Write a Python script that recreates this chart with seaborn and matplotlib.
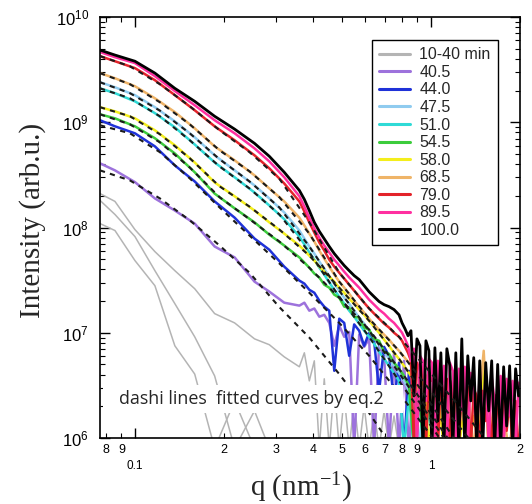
import numpy as np
import pandas as pd
import matplotlib
matplotlib.use("Agg")
import matplotlib.pyplot as plt
import seaborn as sns
from matplotlib.ticker import FixedLocator, FuncFormatter, LogLocator, NullFormatter
from matplotlib.patches import Rectangle

nan = np.nan

# ---------------- data (q in nm^-1, intensity in arb.u.) ----------------
q_data = [0.0762, 0.0856, 0.100, 0.1168, 0.1364, 0.1592, 0.1859, 0.2172, 0.2535, 0.2844, 0.3195,
          0.3594, 0.3736, 0.3883, 0.4037, 0.4197, 0.4362, 0.4535, 0.4715, 0.4901, 0.5095, 0.5296,
          0.5505, 0.5723, 0.5949, 0.6184, 0.6428, 0.6682, 0.6947, 0.7221, 0.7506, 0.7803,
          0.8111, 0.8432, 0.8765, 0.9112, 0.9472, 0.9846, 1.0235, 1.0640, 1.1060, 1.1497, 1.1951,
          1.2424, 1.2915, 1.3426, 1.3956, 1.4508, 1.5081, 1.5677, 1.6297, 1.6941, 1.7611, 1.8306,
          1.9030, 1.9781]

# finer q sampling of the noisy high-q tail (used by the three strongest curves)
q_tail = [0.7989, 0.8177, 0.8367, 0.8564, 0.8765, 0.8971, 0.9183, 0.9399, 0.9620, 0.9846,
          1.0078, 1.0315, 1.0558, 1.0806, 1.1060, 1.1321, 1.1587, 1.1860, 1.2139, 1.2424,
          1.2717, 1.3016, 1.3322, 1.3636, 1.3956, 1.4285, 1.4621, 1.4965, 1.5317, 1.5677,
          1.6046, 1.6424, 1.6810, 1.7206, 1.7611, 1.8025, 1.8449, 1.8883, 1.9328, 1.9781]

I_gray1 = [2.1e8, 1.77e8, 9.55e7, 5.9e7, 3.89e7, 2.62e7, 1.52e7, 1.24e7, 8.75e6, 7.7e6, 5.9e6,
           4.75e6, 6.45e6, 3.49e6, 5.41e6, 8e5, 3.65e6, 8e5, 3.13e6, 8e5, 2.51e6, 8e5, 2.25e6, 8e5,
           2.02e6, 8e5, 1.81e6, 8e5, 1.81e6, 8e5, 1.62e6, 8e5] + [nan] * 24
I_gray2 = [1.81e8, 1.33e8, 8.2e7, 3.89e7, 1.89e7, 9.15e6, 3.89e6, 8e5, 1.81e6, 8e5] + [nan] * 46
I_gray3 = [1.09e8, 9.36e7, 4.85e7, 2.8e7, 7.52e6, 4.05e6, 8e5, 2.25e6, 8e5] + [nan] * 47

I_40_5 = [4.07e8, 3.49e8, 2.7e8, 1.89e8, 1.45e8, 1.09e8, 6.6e7, 5.2e7, 3.06e7, 2.46e7, 1.93e7,
          1.81e7, 1.93e7, 1.62e7, 1.7e7, 1.42e7, 1.48e7, 1.24e7, 7.52e6, 1.17e7, 9.15e6, 1.02e7,
          8e5, 9.6e6, 7.35e6, 8.75e6, 8e5, 7.52e6, 6.04e6, 8e5, 6.45e6, 8e5,
          5.41e6, 8e5, 4.35e6, 8e5] + [nan] * 20
I_44_0 = [1.045e9, 9.15e8, 7.85e8, 5.9e8, 3.89e8, 2.74e8, 1.77e8, 1.24e8, 7.85e7, 6.15e7, 4.25e7,
          3.13e7, 2.93e7, 2.56e7, 2.4e7, 2.02e7, 1.77e7, 1.62e7, 4.35e6, 1.36e7, 1.24e7, 6.04e6,
          1.2e7, 1.045e7, 7.52e6, 1.0e7, 8.39e6, 2.8e6, 7.35e6, 6.04e6, 2.25e6, 5.2e6,
          8e5, 4.35e6, 8e5, 3.13e6, 8e5] + [nan] * 19
I_47_5 = [2.4e9, 2.15e9, 1.81e9, 1.39e9, 1.02e9, 7.2e8, 4.85e8, 3.49e8, 2.51e8, 1.89e8, 1.39e8,
          9.36e7, 7.85e7, 6.6e7, 5.65e7, 4.75e7, 4.05e7, 3.42e7, 2.93e7, 2.51e7, 2.15e7, 1.89e7,
          1.62e7, 1.39e7, 1.22e7, 1.045e7, 8.95e6, 7.7e6, 6.6e6, 5.65e6, 4.85e6, 4.15e6,
          3.49e6, 2.8e6, 2.25e6, 8e5, 2.51e6, 8e5, 1.81e6] + [nan] * 17
I_51_0 = [2.1e9, 1.89e9, 1.58e9, 1.22e9, 8.95e8, 6.15e8, 4.15e8, 3.0e8, 2.15e8, 1.62e8, 1.2e8,
          8.2e7, 6.9e7, 5.8e7, 4.95e7, 4.15e7, 3.57e7, 3.0e7, 2.56e7, 2.2e7, 1.89e7, 1.62e7,
          1.42e7, 1.22e7, 1.045e7, 9.15e6, 7.85e6, 6.6e6, 5.65e6, 4.85e6, 4.15e6, 3.49e6,
          8e5, 2.51e6, 8e5, 2.25e6, 8e5, 1.81e6, 8e5] + [nan] * 17
I_54_5 = [1.19e9, 1.09e9, 9.15e8, 7.05e8, 5.05e8, 3.35e8, 2.1e8, 1.52e8, 1.12e8, 8.55e7, 6.74e7,
          5.2e7, 4.65e7, 4.15e7, 3.65e7, 3.35e7, 2.86e7, 2.68e7, 2.3e7, 2.15e7, 1.77e7, 1.73e7,
          1.42e7, 1.39e7, 1.12e7, 1.07e7, 8.75e6, 8.39e6, 6.6e6, 6.3e6, 5.2e6, 4.55e6,
          3.89e6, 3.13e6, 8e5, 2.51e6, 8e5, 2.25e6, 8e5] + [nan] * 17
I_58_0 = [1.39e9, 1.27e9, 1.09e9, 8.39e8, 6.04e8, 4.15e8, 2.68e8, 1.98e8, 1.45e8, 1.12e8, 8.75e7,
          6.74e7, 6.04e7, 5.41e7, 4.85e7, 4.25e7, 3.8e7, 3.42e7, 3.06e7, 2.68e7, 2.4e7, 2.1e7,
          1.89e7, 1.66e7, 1.48e7, 1.30e7, 1.14e7, 1.0e7, 8.6e6, 7.52e6, 6.45e6, 5.65e6,
          4.85e6, 4.15e6, 3.49e6, 2.8e6, 3.65e6, 8e5, 2.51e6, 2.25e6, 8e5, 2.02e6, 2.8e6, 8e5,
          1.81e6, 8e5, 1.62e6, 8e5, 5.41e6, 8e5, 1.45e6, 8e5, nan, nan, nan, nan]
I_68_5 = [2.93e9, 2.62e9, 2.2e9, 1.69e9, 1.25e9, 8.75e8, 5.9e8, 4.35e8, 3.13e8, 2.35e8, 1.77e8,
          1.24e8, 1.045e8, 8.75e7, 7.35e7, 6.04e7, 5.05e7, 4.25e7, 3.57e7, 3.06e7, 2.68e7, 2.35e7,
          2.02e7, 1.77e7, 1.55e7, 1.36e7, 1.2e7, 1.07e7, 9.6e6, 8.6e6, 7.52e6, 6.74e6,
          5.9e6, 5.2e6, 4.35e6, 4.85e6, 3.49e6, 4.15e6, 8e5, 3.13e6, 2.25e6, 2.8e6, 8e5, 2.51e6,
          1.45e6, 2.25e6, 8e5, 2.02e6, 6.74e6, 8e5, 2.02e6, 8e5, 1.62e6, 8e5, 1.45e6, 8e5]

# strongest curves: smooth part on q_data[:32], noisy tail on q_tail
I_79_0 = [4.25e9, 3.8e9, 3.27e9, 2.51e9, 1.81e9, 1.30e9, 9.15e8, 6.74e8, 4.85e8, 3.65e8, 2.62e8,
          1.77e8, 1.42e8, 1.12e8, 8.95e7, 7.2e7, 6.04e7, 4.95e7, 4.25e7, 3.72e7, 3.27e7, 2.86e7,
          2.51e7, 2.2e7, 1.93e7, 1.7e7, 1.52e7, 1.36e7, 1.22e7, 1.12e7, 1.0e7, 9.15e6]
I_79_0_tail = [8.39e6, 7.35e6, 6.45e6, 5.41e6, 8e5, 5.2e6, 4.35e6, 4.85e6, 8e5, 4.15e6,
               3.49e6, 4.55e6, 8e5, 3.89e6, 2.51e6, 3.65e6, 8e5, 3.49e6, 3.13e6, 8e5,
               3.27e6, 1.81e6, 3.07e6, 8e5, 2.93e6, 2.51e6, 8e5, 2.8e6, 1.45e6, 2.68e6,
               8e5, 2.56e6, 2.02e6, 8e5, 2.46e6, 1.17e6, 2.35e6, 8e5, 2.25e6, 8e5]
I_89_5 = [4.65e9, 4.15e9, 3.65e9, 2.74e9, 1.98e9, 1.45e9, 1.045e9, 7.85e8, 5.65e8, 4.25e8, 3.0e8,
          1.98e8, 1.58e8, 1.24e8, 9.8e7, 8.0e7, 6.74e7, 5.8e7, 4.95e7, 4.35e7, 3.8e7, 3.35e7,
          3.0e7, 2.68e7, 2.35e7, 2.06e7, 1.85e7, 1.66e7, 1.52e7, 1.36e7, 1.24e7, 1.09e7]
I_89_5_tail = [1.0e7, 8.75e6, 7.52e6, 5.41e6, 7.05e6, 8e5, 6.04e6, 5.41e6, 2.25e6, 5.65e6,
               5.2e6, 8e5, 5.41e6, 2.8e6, 4.85e6, 8e5, 5.2e6, 4.35e6, 8e5, 4.55e6,
               1.81e6, 4.75e6, 8e5, 4.15e6, 3.49e6, 8e5, 4.35e6, 1.45e6, 3.97e6, 8e5,
               3.8e6, 2.25e6, 8e5, 3.89e6, 8e5, 3.65e6, 1.62e6, 3.49e6, 8e5, 3.35e6]
I_100_0 = [4.85e9, 4.35e9, 3.8e9, 2.93e9, 2.1e9, 1.58e9, 1.14e9, 8.6e8, 6.3e8, 4.75e8, 3.35e8,
           2.25e8, 1.85e8, 1.45e8, 1.12e8, 9.2e7, 7.8e7, 6.6e7, 5.65e7, 4.95e7, 4.35e7, 3.89e7,
           3.49e7, 3.2e7, 2.8e7, 2.45e7, 2.2e7, 1.98e7, 1.85e7, 1.77e7, 1.66e7, 1.48e7]
I_100_0_tail = [1.24e7, 1.09e7, 9.36e6, 1.045e7, 2.51e6, 8.75e6, 7.52e6, 8e5, 8.39e6, 6.74e6,
                8e5, 7.2e6, 1.45e6, 6.45e6, 8e5, 7.05e6, 4.85e6, 8e5, 6.45e6, 8e5,
                8.75e6, 8e5, 6.04e6, 2.25e6, 5.8e6, 8e5, 5.41e6, 8e5, 5.2e6, 1.81e6,
                5.41e6, 8e5, 5.0e6, 8e5, 4.75e6, 1.3e6, 4.85e6, 8e5, 4.55e6, 2.51e6]

# fitted curves (eq.2), dashed
q_fit = [0.0762, 0.0962, 0.1214, 0.1532, 0.1932, 0.2438, 0.3077, 0.3883, 0.4901, 0.6184,
         0.7803, 0.9846, 1.2424, 1.5677, 1.978]
fit_40_5 = [3.49e8, 2.8e8, 1.89e8, 1.17e8, 6.74e7, 3.72e7, 1.75e7, 9.0e6, 4.05e6, 1.73e6, 6.5e5,
            nan, nan, nan, nan]
fit_44_0 = [9.36e8, 7.85e8, 5.2e8, 2.93e8, 1.55e8, 8.39e7, 4.55e7, 2.4e7, 1.24e7, 6.04e6, 2.68e6,
            1.12e6, 4.6e5, nan, nan]
fit_47_5 = [2.4e9, 1.89e9, 1.29e9, 7.85e8, 4.45e8, 2.74e8, 1.55e8, 6.6e7, 2.51e7, 1.045e7, 4.15e6,
            1.62e6, 6.2e5, nan, nan]
fit_51_0 = [2.1e9, 1.69e9, 1.14e9, 6.74e8, 3.8e8, 2.35e8, 1.33e8, 5.8e7, 2.2e7, 9.15e6, 3.49e6,
            1.39e6, 5.5e5, nan, nan]
fit_54_5 = [1.19e9, 9.55e8, 6.45e8, 3.72e8, 1.94e8, 1.2e8, 7.35e7, 4.15e7, 2.15e7, 1.07e7, 4.55e6,
            1.81e6, 7.0e5, nan, nan]
fit_58_0 = [1.39e9, 1.14e9, 7.7e8, 4.55e8, 2.46e8, 1.58e8, 9.55e7, 5.41e7, 2.68e7, 1.30e7, 5.65e6,
            2.25e6, 8.5e5, nan, nan]
fit_68_5 = [2.93e9, 2.3e9, 1.55e9, 9.55e8, 5.41e8, 3.42e8, 1.94e8, 8.75e7, 3.06e7, 1.36e7, 6.74e6,
            2.93e6, 1.3e6, 5.7e5, nan]
fit_79_0 = [4.25e9, 3.4e9, 2.3e9, 1.42e9, 8.39e8, 5.2e8, 2.9e8, 1.12e8, 3.72e7, 1.7e7, 9.15e6,
            4.35e6, 2.02e6, 9.0e5, nan]

legend_labels = ["10-40 min", "40.5", "44.0", "47.5", "51.0", "54.5", "58.0", "68.5", "79.0",
                 "89.5", "100.0"]
x_minor_ticks = [0.08, 0.09, 0.2, 0.3, 0.4, 0.5, 0.6, 0.7, 0.8, 0.9, 2.0]
x_minor_labels = ["8", "9", "2", "3", "4", "5", "6", "7", "8", "9", "2"]
x_major_ticks = [0.1, 1.0]
x_major_labels = ["0.1", "1"]

# ---------------- style ----------------
sns.set_style("ticks")
plt.rcParams.update({
    "font.family": ["Liberation Sans", "DejaVu Sans"],
    "mathtext.fontset": "custom",
    "mathtext.rm": "Liberation Serif",
    "mathtext.sf": "Liberation Sans",
    "mathtext.it": "Liberation Serif:italic",
    "mathtext.bf": "Liberation Serif:bold",
    "axes.linewidth": 1.2,
    "axes.edgecolor": "black",
})

fig = plt.figure(figsize=(5.32, 5.04), dpi=100)
ax = fig.add_axes([100 / 532, 66 / 504, 420 / 532, 421 / 504])
ax.set_xscale("log")
ax.set_yscale("log")

gray = "#b4b4b4"
q_strong = q_data[:32] + q_tail
curves = [
    (q_data, I_gray1, legend_labels[0], gray, 1.1),
    (q_data, I_gray2, None, gray, 1.1),
    (q_data, I_gray3, None, gray, 1.1),
    (q_data, I_40_5, legend_labels[1], "#9d72dc", 1.8),
    (q_data, I_44_0, legend_labels[2], "#1f32d8", 1.8),
    (q_data, I_47_5, legend_labels[3], "#8fcbef", 1.8),
    (q_data, I_51_0, legend_labels[4], "#2fdad6", 1.8),
    (q_data, I_54_5, legend_labels[5], "#3ccc3c", 1.8),
    (q_data, I_58_0, legend_labels[6], "#f4ee1c", 1.8),
    (q_data, I_68_5, legend_labels[7], "#efb468", 1.8),
    (q_strong, I_79_0 + I_79_0_tail, legend_labels[8], "#e3232a", 1.8),
    (q_strong, I_89_5 + I_89_5_tail, legend_labels[9], "#ff2fa0", 1.8),
    (q_strong, I_100_0 + I_100_0_tail, legend_labels[10], "black", 2.0),
]
for qq, vals, lab, col, lw in curves:
    df = pd.DataFrame({"q": qq, "I": vals}).dropna()
    sns.lineplot(data=df, x="q", y="I", ax=ax, color=col, linewidth=lw, label=lab,
                 estimator=None, sort=False, errorbar=None, legend=False)

for fv in [fit_40_5, fit_44_0, fit_47_5, fit_51_0, fit_54_5, fit_58_0, fit_68_5, fit_79_0]:
    df = pd.DataFrame({"q": q_fit, "I": fv}).dropna()
    sns.lineplot(data=df, x="q", y="I", ax=ax, color="#1a1a1a", linewidth=1.5,
                 linestyle=(0, (2.5, 2.5)), estimator=None, sort=False, errorbar=None,
                 legend=False, zorder=4)

ax.set_xlim(0.0762, 2.0)
ax.set_ylim(1e6, 1e10)
ax.set_xlabel("")
ax.set_ylabel("")

# y axis ticks
ax.yaxis.set_major_locator(LogLocator(base=10, numticks=12))
ax.yaxis.set_minor_locator(LogLocator(base=10, subs=np.arange(2, 10), numticks=12))
ax.yaxis.set_major_formatter(FuncFormatter(lambda v, p: r"$\mathsf{10^{%d}}$" % int(round(np.log10(v)))))
ax.yaxis.set_minor_formatter(NullFormatter())

# x axis ticks
ax.xaxis.set_major_locator(FixedLocator(x_major_ticks))
ax.xaxis.set_minor_locator(FixedLocator(x_minor_ticks))
ax.xaxis.set_major_formatter(FuncFormatter(lambda v, p: x_major_labels[p] if p is not None and p < len(x_major_labels) else ""))
ax.xaxis.set_minor_formatter(FuncFormatter(lambda v, p: x_minor_labels[p] if p is not None and p < len(x_minor_labels) else ""))

ax.tick_params(which="both", direction="in", top=True, right=True, colors="black")
ax.tick_params(which="major", length=7, width=1.0)
ax.tick_params(which="minor", length=3.5, width=0.8)
ax.tick_params(axis="y", which="major", labelsize=12, pad=8)
ax.tick_params(axis="x", which="minor", labelsize=9, pad=4)
ax.tick_params(axis="x", which="major", labelsize=8.5, pad=16)

# axis titles
fig.text(33 / 532, 1 - 220 / 504, "Intensity (arb.u.)", rotation=90, ha="center", va="center",
         fontfamily="Liberation Serif", fontsize=21)
fig.text(301 / 532, 1 - 488 / 504, r"q (nm$^{-1}$)", ha="center", va="center",
         fontfamily="Liberation Serif", fontsize=21)

# annotation box
ax.add_patch(Rectangle((0.007, 0.059), 0.715, 0.068, transform=ax.transAxes,
                       facecolor="white", edgecolor="none", zorder=5))
ax.text(0.046, 0.092, "dashi lines  fitted curves by eq.2", transform=ax.transAxes,
        fontfamily=["Open Sans", "DejaVu Sans"], fontsize=12.9, va="center", ha="left", zorder=6)

# legend
handles, labels = ax.get_legend_handles_labels()
leg = ax.legend(handles, labels, loc="upper left", bbox_to_anchor=(0.648, 0.945),
                frameon=True, fancybox=False, edgecolor="black", framealpha=1,
                fontsize=11.5, handlelength=1.9, handletextpad=0.6, labelspacing=0.16,
                borderpad=0.45, borderaxespad=0)
leg.get_frame().set_linewidth(1.0)
leg.set_zorder(10)
for h in leg.get_lines():
    h.set_linewidth(2.2)

fig.savefig("out.png", dpi=100)
